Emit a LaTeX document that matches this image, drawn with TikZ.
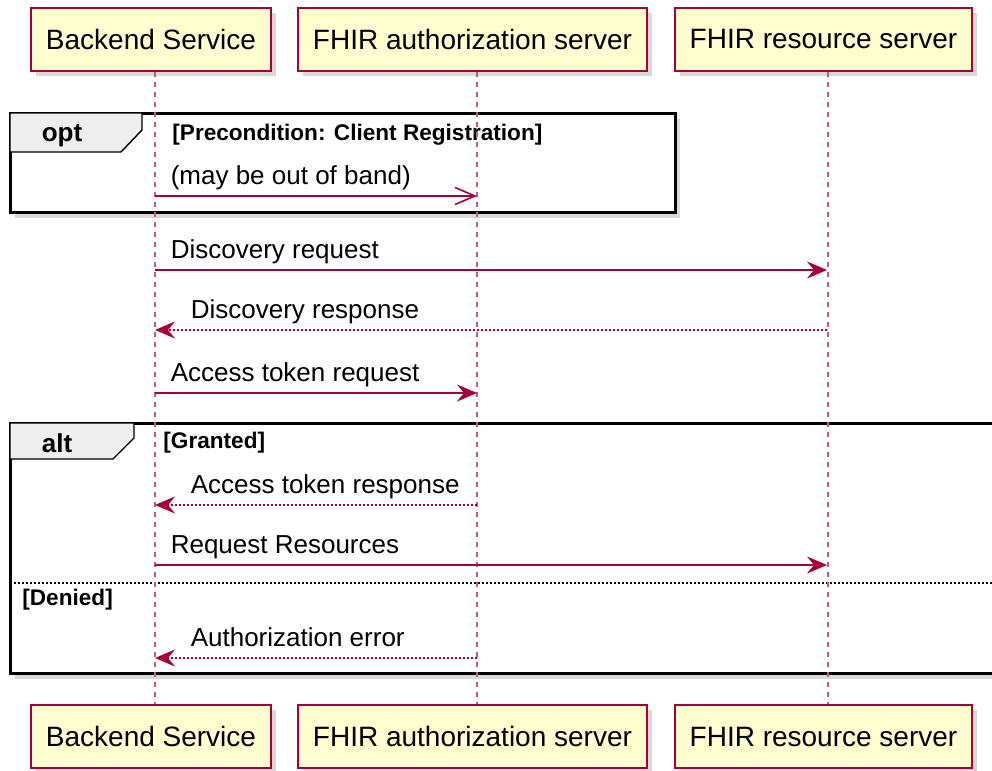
\documentclass[tikz,border=0pt]{standalone}
\usepackage{fontspec}
\setmainfont{Liberation Sans}
\usetikzlibrary{arrows.meta,shadows}
\definecolor{umlred}{HTML}{A80036}
\definecolor{umlyellow}{HTML}{FEFECE}
\definecolor{umltab}{HTML}{EEEEEE}
\tikzset{
	actor/.style={draw=umlred, fill=umlyellow, line width=1pt, minimum height=31.5pt, inner xsep=7.5pt, font=\fontsize{14}{16}\selectfont, drop shadow={shadow xshift=2.5pt, shadow yshift=-2.5pt, opacity=0.3}},
	lifeline/.style={draw=umlred!65, line width=1pt, dash pattern=on 2.5pt off 2.5pt},
	msg/.style={draw=umlred, line width=0.8pt, -{Stealth[length=10pt, width=8.5pt, inset=3.5pt]}},
	reply/.style={msg, dash pattern=on 1pt off 1pt},
	async/.style={draw=umlred, line width=0.8pt, -{Straight Barb[length=10pt, width=8.5pt]}},
	txt/.style={anchor=base west, inner sep=0pt, yshift=6pt, font=\fontsize{13}{15}\selectfont},
	frame/.style={draw=black, line width=1.5pt, fill=white, drop shadow={shadow xshift=2.5pt, shadow yshift=-3pt, opacity=0.3}},
	tab/.style={draw=black, line width=0.7pt, fill=umltab},
	guard/.style={anchor=west, inner sep=0pt, font=\bfseries\fontsize{11.3}{13}\selectfont},
	kind/.style={inner sep=0pt, font=\bfseries\fontsize{13}{15}\selectfont}
}
\begin{document}
\begin{tikzpicture}[x=0.5pt, y=-0.5pt]
		\useasboundingbox (0,0) rectangle (992,771);
		
		\draw [frame] (10,113) rectangle (675,212);
		\draw [tab] (10,113) -- (142,113) -- (142,130) -- (121,152) -- (10,152) -- cycle;
		\node (opt) at (62,136) [kind] {opt};
		\node (pre) at (172,135) [guard] {[Precondition: Client Registration]};
		
		\draw [frame] (10,423) rectangle (1010,673);
		\draw [tab] (10,423) -- (134,423) -- (134,438) -- (113,459) -- (10,459) -- cycle;
		\node (alt) at (57,443) [kind] {alt};
		\node (granted) at (163,443) [guard] {[Granted]};
		\node (denied) at (22,600) [guard] {[Denied]};
		\draw [black, line width=0.8pt, dash pattern=on 1pt off 1pt] (10,583) -- (1010,583);
		
		\node (bsT) at (151,39) [actor] {Backend Service};
		\node (asT) at (472.5,39) [actor] {FHIR authorization server};
		\node (rsT) at (823.5,39) [actor] {FHIR resource server};
		\node (bsB) at (151,736.5) [actor] {Backend Service};
		\node (asB) at (472.5,736.5) [actor] {FHIR authorization server};
		\node (rsB) at (823.5,736.5) [actor] {FHIR resource server};
		
		\draw [lifeline] ([xshift=2pt]bsT.south) -- ([xshift=2pt]bsB.north);
		\draw [lifeline] ([xshift=2pt]asT.south) -- ([xshift=2pt]asB.north);
		\draw [lifeline] ([xshift=2pt]rsT.south) -- ([xshift=2pt]rsB.north);
		
		\coordinate (bs1) at (155,196);
		\coordinate (as1) at (477,196);
		\coordinate (bs2) at (155,270);
		\coordinate (rs2) at (827,270);
		\coordinate (bs3) at (155,330);
		\coordinate (rs3) at (827,330);
		\coordinate (bs4) at (155,393);
		\coordinate (as4) at (477,393);
		\coordinate (bs5) at (155,505);
		\coordinate (as5) at (477,505);
		\coordinate (bs6) at (155,565);
		\coordinate (rs6) at (827,565);
		\coordinate (bs7) at (155,658);
		\coordinate (as7) at (477,658);
		
		\draw [async] (bs1) -- (as1) node[txt, pos=0, xshift=7.5pt] {(may be out of band)};
		\draw [msg] (bs2) -- (rs2) node[txt, pos=0, xshift=7.5pt] {Discovery request};
		\draw [reply] (rs3) -- (bs3) node[txt, pos=1, xshift=17.5pt] {Discovery response};
		\draw [msg] (bs4) -- (as4) node[txt, pos=0, xshift=7.5pt] {Access token request};
		\draw [reply] (as5) -- (bs5) node[txt, pos=1, xshift=17.5pt] {Access token response};
		\draw [msg] (bs6) -- (rs6) node[txt, pos=0, xshift=7.5pt] {Request Resources};
		\draw [reply] (as7) -- (bs7) node[txt, pos=1, xshift=17.5pt] {Authorization error};
		\end{tikzpicture}
\end{document}
